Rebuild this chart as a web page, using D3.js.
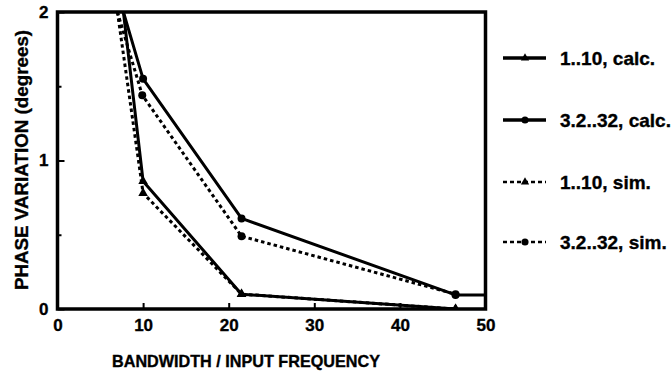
<!DOCTYPE html>
<html><head><meta charset="utf-8">
<script src="https://cdn.jsdelivr.net/npm/d3@7"></script>
<style>
html,body{margin:0;padding:0;background:#fff;}
svg{display:block;}
text{font-family:"Liberation Sans",Arial,Helvetica,sans-serif;font-weight:bold;fill:#000;stroke:#000;stroke-width:0.35px;}
</style></head>
<body>
<svg id="chart" width="672" height="375"></svg>
<script>
// Data
const xCalc = [7.7, 10, 21.5, 46.5];
const xCalcCirc = [7.7, 10, 21.5, 46.5, 50];
const xSim = [7.0, 10, 21.5, 46.5];
const xSimCirc = [7.0, 9.9, 21.5, 46.5];
const triCalc = [2.0, 0.86, 0.10, 0.0];
const circCalc = [2.0, 1.55, 0.61, 0.095, 0.095];
const triSim = [2.0, 0.78, 0.10, 0.0];
const circSim = [2.0, 1.44, 0.49, 0.10];
const seriesNames = ["1..10, calc.", "3.2..32, calc.", "1..10, sim.", "3.2..32, sim."];
const xTicks = [0, 10, 20, 30, 40, 50];
const yTicks = [0, 1, 2];
const yMinorTicks = [0.5, 1.5];
const xTitle = "BANDWIDTH / INPUT FREQUENCY";
const yTitle = "PHASE VARIATION (degrees)";

const series = [
  {name: seriesNames[0], xs: xCalc, ys: triCalc, marker: "tri", dashed: false, markFrom: 1, markTo: 4},
  {name: seriesNames[1], xs: xCalcCirc, ys: circCalc, marker: "circ", dashed: false, markFrom: 1, markTo: 4},
  {name: seriesNames[2], xs: xSim, ys: triSim, marker: "tri", dashed: true, markFrom: 1, markTo: 4},
  {name: seriesNames[3], xs: xSimCirc, ys: circSim, marker: "circ", dashed: true, markFrom: 1, markTo: 4}
];

const svg = d3.select("#chart");
const L = 57.5, R = 485.5, T = 12, B = 309;
const x = d3.scaleLinear().domain([0, 50]).range([L, R]);
const y = d3.scaleLinear().domain([0, 2]).range([B, T]);

const triSym = d3.symbol().type(d3.symbolTriangle).size(40);
const circSym = d3.symbol().type(d3.symbolCircle).size(50);

svg.append("clipPath").attr("id","clip").append("rect")
  .attr("x", L).attr("y", T).attr("width", R - L).attr("height", B - T);

const line = d3.line().x(d => x(d[0])).y(d => y(d[1]));
const g = svg.append("g").attr("clip-path","url(#clip)");
series.forEach(s => {
  const pts = s.xs.map((v,i) => [v, s.ys[i]]);
  g.append("path").datum(pts).attr("d", line)
    .attr("fill","none").attr("stroke","#000").attr("stroke-width",3)
    .attr("stroke-dasharray", s.dashed ? "3.5,3" : null)
    .attr("stroke-linejoin","round");
  g.selectAll(null).data(pts.slice(s.markFrom, s.markTo)).enter().append("path")
    .attr("transform", d => `translate(${x(d[0])},${y(d[1])})`)
    .attr("d", s.marker === "tri" ? triSym() : circSym())
    .attr("fill","#000");
});

// axes
const xAxis = d3.axisBottom(x).tickValues(xTicks).tickSize(-6).tickPadding(10).tickFormat(d3.format("d"));
const gx = svg.append("g").attr("transform", `translate(0,${B})`).call(xAxis);
const yAxis = d3.axisLeft(y).tickValues(yTicks).tickSize(-7).tickPadding(9).tickFormat(d3.format("d"));
const gy = svg.append("g").attr("transform", `translate(${L},0)`).call(yAxis);
const gym = svg.append("g").attr("transform", `translate(${L},0)`)
  .call(d3.axisLeft(y).tickValues(yMinorTicks).tickSize(-4).tickFormat(""));
[gx, gy, gym].forEach(a => {
  a.select(".domain").remove();
  a.selectAll(".tick line").attr("stroke","#000").attr("stroke-width",2);
  a.selectAll("text").attr("font-size",17).attr("font-family",null).style("font-weight","bold").attr("fill","#000");
});
gx.selectAll("text").attr("dy","0.71em");

// frame
svg.append("rect").attr("x", L).attr("y", T).attr("width", R - L).attr("height", B - T)
  .attr("fill","none").attr("stroke","#000").attr("stroke-width",3.5);

// titles
svg.append("text").attr("x", 246).attr("y", 367).attr("text-anchor","middle")
  .attr("font-size",16.2).text(xTitle);
svg.append("text").attr("transform","translate(28,160) rotate(-90)").attr("text-anchor","middle")
  .attr("font-size",18.8).text(yTitle);

// legend
const leg = svg.append("g");
const legY = [58, 120, 182, 242];
series.forEach((s,i) => {
  const gg = leg.append("g").attr("transform", `translate(0,${legY[i]})`);
  gg.append("line").attr("x1",503).attr("x2",546).attr("y1",0).attr("y2",0)
    .attr("stroke","#000").attr("stroke-width", s.dashed ? 2.5 : 3.5)
    .attr("stroke-dasharray", s.dashed ? "4,3" : null);
  gg.append("path").attr("transform","translate(525,0)")
    .attr("d", s.marker === "tri" ? d3.symbol().type(d3.symbolTriangle).size(30)() : d3.symbol().type(d3.symbolCircle).size(40)())
    .attr("fill","#000");
  gg.append("text").attr("x",560).attr("y",7).attr("font-size",19).text(s.name);
});
</script>
</body></html>
